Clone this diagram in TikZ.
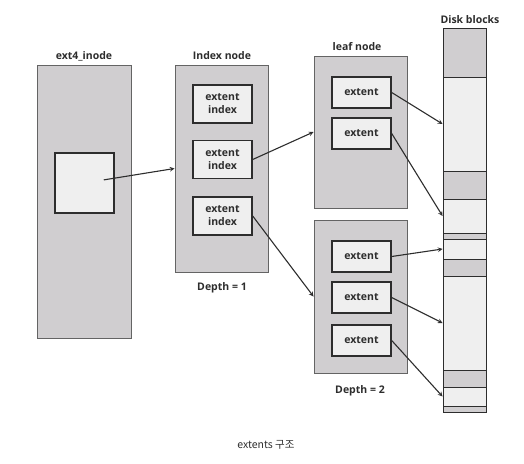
\documentclass[tikz,border=0pt]{standalone}
\usepackage{fontspec}
\setmainfont{Open Sans}
\newfontfamily\krfont{Noto Sans CJK KR}
\definecolor{panelgray}{RGB}{208,206,208}
\definecolor{slotgray}{RGB}{239,239,239}
\definecolor{edgegray}{RGB}{100,100,100}
\definecolor{inkgray}{RGB}{45,45,45}
\begin{document}
\begin{tikzpicture}[x=1pt, y=-1pt, >=stealth,
  panel/.style={draw=edgegray, line width=1pt, fill=panelgray, inner sep=0pt},
  slot/.style={draw=inkgray, line width=1.4pt, fill=slotgray, inner sep=0pt,
    minimum width=59pt, align=center, font=\bfseries\fontsize{10.5}{13}\selectfont, text=inkgray},
  blk/.style={draw=inkgray, line width=0.9pt, inner sep=0pt, minimum width=43pt},
  title/.style={font=\bfseries\fontsize{10.5}{12}\selectfont, text=inkgray},
  link/.style={->, line width=1.1pt, inkgray}]
\useasboundingbox (0,0) rectangle (524,463);
% inode
\node[panel, minimum width=94pt, minimum height=273pt] at (84,201.5) (inode) {};
\node[title] at (84,56) (inodelbl) {ext4\_inode};
\node[slot, minimum width=59pt, minimum height=60pt] at (84.5,183) (inslot) {};
% depth 1
\node[panel, minimum width=93pt, minimum height=207pt] at (221.5,168.5) (index) {};
\node[title] at (222,56) (indexlbl) {Index node};
\node[slot, minimum height=38pt] at (222.5,104) (idx1) {extent\\index};
\node[slot, minimum height=38pt] at (222.5,159.5) (idx2) {extent\\index};
\node[slot, minimum height=38pt] at (222.5,216) (idx3) {extent\\index};
\node[title] at (222,288) (depth1) {Depth = 1};
% depth 2
\node[panel, minimum width=93pt, minimum height=152pt] at (360.5,132) (leafA) {};
\node[title] at (357,47) (leaflbl) {leaf node};
\node[slot, minimum height=31pt] at (361.5,92.5) (extA1) {extent};
\node[slot, minimum height=31pt] at (361.5,133.5) (extA2) {extent};
\node[panel, minimum width=93pt, minimum height=153pt] at (360.5,296.5) (leafB) {};
\node[slot, minimum height=31pt] at (361.5,256.5) (extB1) {extent};
\node[slot, minimum height=31pt] at (361.5,297.5) (extB2) {extent};
\node[slot, minimum height=31pt] at (361.5,340.5) (extB3) {extent};
\node[title] at (360,391) (depth2) {Depth = 2};
% disk
\node[title] at (470,20) (disklbl) {Disk blocks};
\foreach \t/\b/\c [count=\i] in {28/77/panelgray, 77/171/slotgray, 171/199/panelgray,
    199/233/slotgray, 233/239/panelgray, 239/259/slotgray, 259/276/panelgray,
    276/370/slotgray, 370/387/panelgray, 387/406/slotgray, 406/412/panelgray}
  \node[blk, fill=\c, minimum height={(\b-\t)*1pt}] at (464.5,{(\t+\b)/2}) (blk\i) {};
% pointers
\draw[link, shorten <=19.5pt] (inslot.center) -- (index.west);
\draw[link] (idx2.east) -- (leafA.west);
\draw[link] (idx3.east) -- (leafB.west);
\draw[link] (extA1.east) -- (blk2.west);
\draw[link] (extA2.east) -- (blk4.west);
\draw[link] (extB1.east) -- (blk6.west);
\draw[link] (extB2.east) -- (blk8.west);
\draw[link] (extB3.east) -- (blk10.west);
\node[font=\krfont\fontsize{10.5}{12}\selectfont, text=inkgray] at (266,445) (caption) {extents 구조};
\end{tikzpicture}
\end{document}
